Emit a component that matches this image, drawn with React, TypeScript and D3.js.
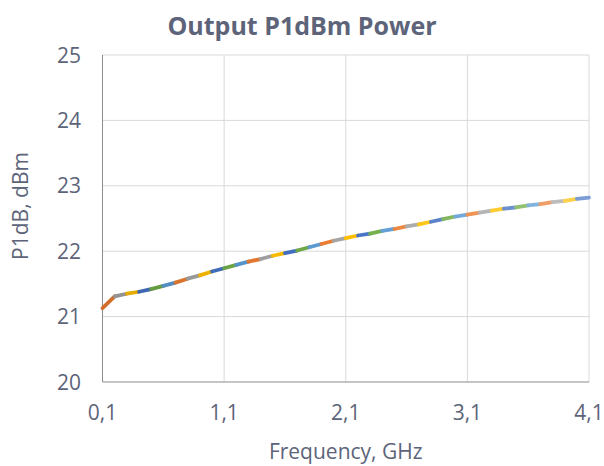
import React, { useEffect, useRef } from 'react';
import * as d3 from 'd3';

// frequency points, GHz
const freqs = [
  0.1, 0.2, 0.3, 0.4, 0.5, 0.6, 0.7, 0.8, 0.9, 1.0,
  1.1, 1.2, 1.3, 1.4, 1.5, 1.6, 1.7, 1.8, 1.9, 2.0,
  2.1, 2.2, 2.3, 2.4, 2.5, 2.6, 2.7, 2.8, 2.9, 3.0,
  3.1, 3.2, 3.3, 3.4, 3.5, 3.6, 3.7, 3.8, 3.9, 4.0, 4.1
];

// P1dB, dBm
const p1db = [
  21.13, 21.31, 21.35, 21.38, 21.42, 21.47, 21.52, 21.58, 21.63, 21.69,
  21.74, 21.79, 21.84, 21.88, 21.93, 21.97, 22.01, 22.06, 22.11, 22.16,
  22.20, 22.24, 22.27, 22.31, 22.34, 22.38, 22.41, 22.45, 22.49, 22.53,
  22.56, 22.59, 22.62, 22.65, 22.67, 22.70, 22.72, 22.75, 22.77, 22.80, 22.82
];

const xTicks = [0.1, 1.1, 2.1, 3.1, 4.1];
const yTicks = [20, 21, 22, 23, 24, 25];

// each segment is its own series in the original, cycling through these
const palette = ['#ED7D31', '#A5A5A5', '#FFC000', '#4472C4', '#70AD47', '#5B9BD5'];

const App = () => {
  const ref = useRef<SVGSVGElement>(null);

  useEffect(() => {
    if (!ref.current) return;
    const svg = d3.select(ref.current);
    svg.selectAll('*').remove();

    const textColor = '#5d6479';
    const font = '"Open Sans", sans-serif';

    const x = d3.scaleLinear().domain([0.1, 4.1]).range([102.5, 589]);
    const y = d3.scaleLinear().domain([20, 25]).range([382, 55]);

    // gridlines
    svg.append('g')
      .selectAll('line')
      .data(yTicks.filter(d => d !== 20))
      .enter()
      .append('line')
      .attr('x1', x(0.1))
      .attr('x2', x(4.1))
      .attr('y1', d => y(d))
      .attr('y2', d => y(d))
      .attr('stroke', '#d9d9d9')
      .attr('stroke-width', 1);

    svg.append('g')
      .selectAll('line')
      .data(xTicks.filter(d => d !== 0.1))
      .enter()
      .append('line')
      .attr('x1', d => x(d))
      .attr('x2', d => x(d))
      .attr('y1', y(20))
      .attr('y2', y(25))
      .attr('stroke', '#d9d9d9')
      .attr('stroke-width', 1);

    // axis lines
    svg.append('line')
      .attr('x1', x(0.1)).attr('x2', x(0.1))
      .attr('y1', y(20)).attr('y2', y(25))
      .attr('stroke', '#8c8c8c');
    svg.append('line')
      .attr('x1', x(0.1)).attr('x2', x(4.1))
      .attr('y1', y(20)).attr('y2', y(20))
      .attr('stroke', '#8c8c8c');

    // tick labels
    svg.append('g')
      .selectAll('text')
      .data(yTicks)
      .enter()
      .append('text')
      .attr('x', 81)
      .attr('y', d => y(d) + 7.5)
      .attr('text-anchor', 'end')
      .attr('fill', textColor)
      .style('font-family', font)
      .style('font-size', '21px')
      .text(d => d);

    svg.append('g')
      .selectAll('text')
      .data(xTicks)
      .enter()
      .append('text')
      .attr('x', d => x(d))
      .attr('y', 420)
      .attr('text-anchor', 'middle')
      .attr('fill', textColor)
      .style('font-family', font)
      .style('font-size', '21px')
      .text(d => d3.format('.1f')(d).replace('.', ','));

    // line, segment by segment
    const segs = d3.range(freqs.length - 1);
    const n = segs.length - 1;
    svg.append('g')
      .selectAll('line')
      .data(segs)
      .enter()
      .append('line')
      .attr('x1', i => x(freqs[i]))
      .attr('y1', i => y(p1db[i]))
      .attr('x2', i => x(freqs[i + 1]))
      .attr('y2', i => y(p1db[i + 1]))
      .attr('stroke', i => {
        const base = palette[i % palette.length];
        const dark = d3.rgb(base).darker(0.35).formatHex();
        const light = d3.interpolateRgb(base, '#ffffff')(0.3);
        const t = i / n;
        return t < 0.5
          ? d3.interpolateRgb(dark, base)(t * 2)
          : d3.interpolateRgb(base, light)((t - 0.5) * 2);
      })
      .attr('stroke-width', 3.75)
      .attr('stroke-linecap', 'round');

    // titles
    svg.append('text')
      .attr('x', 302)
      .attr('y', 35)
      .attr('text-anchor', 'middle')
      .attr('fill', textColor)
      .style('font-family', font)
      .style('font-size', '25px')
      .style('font-weight', 'bold')
      .text('Output P1dBm Power');

    svg.append('text')
      .attr('x', (x(0.1) + x(4.1)) / 2)
      .attr('y', 459)
      .attr('text-anchor', 'middle')
      .attr('fill', textColor)
      .style('font-family', font)
      .style('font-size', '21px')
      .text('Frequency, GHz');

    svg.append('text')
      .attr('transform', 'translate(28,206) rotate(-90)')
      .attr('text-anchor', 'middle')
      .attr('fill', textColor)
      .style('font-family', font)
      .style('font-size', '21px')
      .text('P1dB, dBm');
  }, []);

  return (
    <svg
      ref={ref}
      width={604}
      height={466}
      style={{ position: 'absolute', left: 0, top: 0, background: '#ffffff' }}
    />
  );
};

export default App;
